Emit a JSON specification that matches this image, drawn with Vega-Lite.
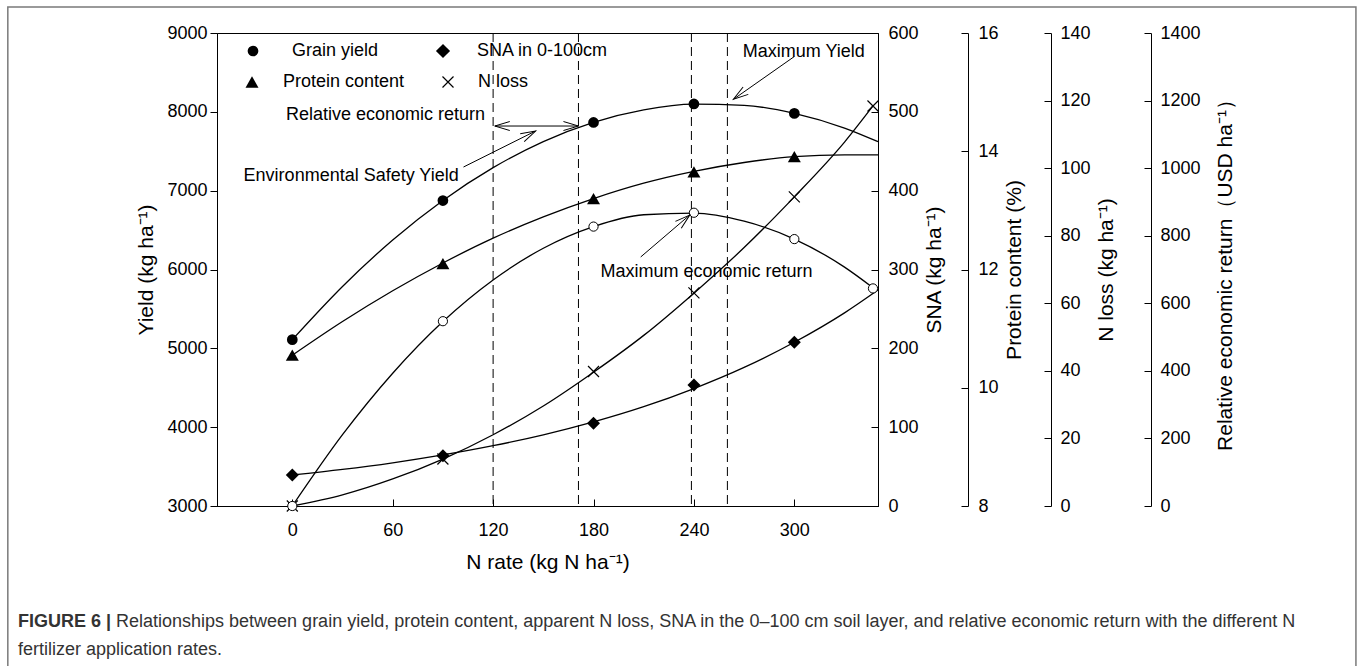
{
  "$schema": "https://vega.github.io/schema/vega-lite/v6.json",
  "autosize": {"type": "none"},
  "padding": {"left": 217, "top": 33, "right": 1141, "bottom": 633},
  "background": "white",
  "config": {
    "font": "Liberation Sans",
    "view": {"stroke": "black", "strokeWidth": 1},
    "axis": {"domainColor": "black", "tickColor": "black", "labelColor": "black", "titleColor": "black", "labelFont": "Liberation Sans", "titleFont": "Liberation Sans", "labelFontSize": 18, "titleFontSize": 21, "titleFontWeight": "normal", "grid": false, "domainWidth": 1, "tickWidth": 1, "labelFlush": false, "labelOverlap": false},
    "legend": {"labelFont": "Liberation Sans", "labelFontSize": 18, "labelColor": "black", "labelLimit": 400, "padding": 0, "titlePadding": 0}
  },
  "datasets": {
    "points": [
      {"series": "Grain yield", "N": 0, "value": 5110},
      {"series": "Grain yield", "N": 90, "value": 6875},
      {"series": "Grain yield", "N": 180, "value": 7865},
      {"series": "Grain yield", "N": 240, "value": 8100},
      {"series": "Grain yield", "N": 300, "value": 7980},
      {"series": "Protein content", "N": 0, "value": 10.55},
      {"series": "Protein content", "N": 90, "value": 12.1},
      {"series": "Protein content", "N": 180, "value": 13.2},
      {"series": "Protein content", "N": 240, "value": 13.65},
      {"series": "Protein content", "N": 300, "value": 13.91},
      {"series": "SNA in 0-100cm", "N": 0, "value": 39.3},
      {"series": "SNA in 0-100cm", "N": 90, "value": 63.8},
      {"series": "SNA in 0-100cm", "N": 180, "value": 104.9},
      {"series": "SNA in 0-100cm", "N": 240, "value": 153.5},
      {"series": "SNA in 0-100cm", "N": 300, "value": 207.7},
      {"series": "N loss", "N": 0, "value": 0},
      {"series": "N loss", "N": 90, "value": 13.9},
      {"series": "N loss", "N": 180, "value": 39.8},
      {"series": "N loss", "N": 240, "value": 63.1},
      {"series": "N loss", "N": 300, "value": 91.5},
      {"series": "N loss", "N": 347, "value": 118.4},
      {"series": "Relative economic return", "N": 0, "value": 0},
      {"series": "Relative economic return", "N": 90, "value": 547},
      {"series": "Relative economic return", "N": 180, "value": 827},
      {"series": "Relative economic return", "N": 240, "value": 868},
      {"series": "Relative economic return", "N": 300, "value": 790},
      {"series": "Relative economic return", "N": 347, "value": 644}
    ],
    "curves": [
      {"series": "Grain yield", "N": 0, "value": 5110},
      {"series": "Grain yield", "N": 30, "value": 5785},
      {"series": "Grain yield", "N": 60, "value": 6374},
      {"series": "Grain yield", "N": 90, "value": 6876},
      {"series": "Grain yield", "N": 120, "value": 7292},
      {"series": "Grain yield", "N": 150, "value": 7623},
      {"series": "Grain yield", "N": 180, "value": 7867},
      {"series": "Grain yield", "N": 210, "value": 8025},
      {"series": "Grain yield", "N": 240, "value": 8097},
      {"series": "Grain yield", "N": 270, "value": 8082},
      {"series": "Grain yield", "N": 300, "value": 7981},
      {"series": "Grain yield", "N": 330, "value": 7794},
      {"series": "Grain yield", "N": 350, "value": 7621},
      {"series": "Protein content", "N": 0, "value": 10.55},
      {"series": "Protein content", "N": 30, "value": 11.12},
      {"series": "Protein content", "N": 60, "value": 11.64},
      {"series": "Protein content", "N": 90, "value": 12.11},
      {"series": "Protein content", "N": 120, "value": 12.53},
      {"series": "Protein content", "N": 150, "value": 12.89},
      {"series": "Protein content", "N": 180, "value": 13.2},
      {"series": "Protein content", "N": 210, "value": 13.46},
      {"series": "Protein content", "N": 240, "value": 13.66},
      {"series": "Protein content", "N": 270, "value": 13.81},
      {"series": "Protein content", "N": 300, "value": 13.91},
      {"series": "Protein content", "N": 330, "value": 13.94},
      {"series": "Protein content", "N": 350, "value": 13.94},
      {"series": "SNA in 0-100cm", "N": 0, "value": 39.3},
      {"series": "SNA in 0-100cm", "N": 30, "value": 46.4},
      {"series": "SNA in 0-100cm", "N": 60, "value": 54.8},
      {"series": "SNA in 0-100cm", "N": 90, "value": 64.8},
      {"series": "SNA in 0-100cm", "N": 120, "value": 76.5},
      {"series": "SNA in 0-100cm", "N": 150, "value": 90.3},
      {"series": "SNA in 0-100cm", "N": 180, "value": 106.7},
      {"series": "SNA in 0-100cm", "N": 210, "value": 126},
      {"series": "SNA in 0-100cm", "N": 240, "value": 149},
      {"series": "SNA in 0-100cm", "N": 270, "value": 175.8},
      {"series": "SNA in 0-100cm", "N": 300, "value": 207.7},
      {"series": "SNA in 0-100cm", "N": 330, "value": 245},
      {"series": "SNA in 0-100cm", "N": 350, "value": 274},
      {"series": "N loss", "N": 0, "value": 0},
      {"series": "N loss", "N": 30, "value": 3.3},
      {"series": "N loss", "N": 60, "value": 8.0},
      {"series": "N loss", "N": 90, "value": 13.9},
      {"series": "N loss", "N": 120, "value": 21.1},
      {"series": "N loss", "N": 150, "value": 29.6},
      {"series": "N loss", "N": 180, "value": 39.6},
      {"series": "N loss", "N": 210, "value": 50.5},
      {"series": "N loss", "N": 240, "value": 63.0},
      {"series": "N loss", "N": 270, "value": 76.5},
      {"series": "N loss", "N": 300, "value": 91.5},
      {"series": "N loss", "N": 330, "value": 107.7},
      {"series": "N loss", "N": 347, "value": 118.4},
      {"series": "Relative economic return", "N": 0, "value": 0},
      {"series": "Relative economic return", "N": 30, "value": 211},
      {"series": "Relative economic return", "N": 60, "value": 393},
      {"series": "Relative economic return", "N": 90, "value": 546},
      {"series": "Relative economic return", "N": 120, "value": 669},
      {"series": "Relative economic return", "N": 150, "value": 763},
      {"series": "Relative economic return", "N": 180, "value": 827},
      {"series": "Relative economic return", "N": 210, "value": 862},
      {"series": "Relative economic return", "N": 240, "value": 867},
      {"series": "Relative economic return", "N": 270, "value": 843},
      {"series": "Relative economic return", "N": 300, "value": 790},
      {"series": "Relative economic return", "N": 330, "value": 707},
      {"series": "Relative economic return", "N": 347, "value": 646}
    ],
    "arrows": [
      {"id": "esy", "ord": 1, "N": 102.3, "Y": 7300},
      {"id": "esy", "ord": 2, "N": 145.4, "Y": 7757},
      {"id": "span", "ord": 1, "N": 121, "Y": 7820},
      {"id": "span", "ord": 2, "N": 171, "Y": 7820},
      {"id": "maxy", "ord": 1, "N": 299.9, "Y": 8700},
      {"id": "maxy", "ord": 2, "N": 263.6, "Y": 8159},
      {"id": "mer", "ord": 1, "N": 208.2, "Y": 6159},
      {"id": "mer", "ord": 2, "N": 237.5, "Y": 6691}
    ],
    "notes": [
      {"label": "Maximum Yield", "N": 269.2, "Y": 8696},
      {"label": "Environmental Safety Yield", "N": -29.1, "Y": 7127},
      {"label": "Maximum economic return", "N": 184.2, "Y": 5909}
    ]
  },
  "title": {
    "text": "Relationships between grain yield, protein content, apparent N loss, SNA in the 0–100 cm soil layer, and relative economic return with the different N",
    "orient": "bottom", "anchor": "start", "frame": "group", "dx": -101, "dy": 0, "offset": -68,
    "font": "Liberation Sans", "fontSize": 18, "fontWeight": "normal", "color": "#333"
  },
  "vconcat": [
    {
      "width": 661,
      "height": 473,
      "title": {
        "text": "FIGURE 6 |", "subtitle": "fertilizer application rates.",
        "orient": "bottom", "anchor": "start", "frame": "group", "dx": -199, "offset": -68,
        "font": "Liberation Sans", "fontSize": 18, "fontWeight": "bold", "color": "#333",
        "subtitleFont": "Liberation Sans", "subtitleFontSize": 18, "subtitleColor": "#333", "subtitlePadding": 10
      },
      "encoding": {
        "x": {"field": "N", "type": "quantitative",
          "scale": {"domain": [-45, 350], "nice": false, "zero": false},
          "axis": {"orient": "bottom", "values": [0, 60, 120, 180, 240, 300], "format": "d", "tickSize": -7, "labelPadding": 22, "title": "N rate (kg N ha⁻¹)", "titlePadding": 12}}
      },
      "layer": [
        {
          "data": {"values": [{"x1": -170, "x2": 635.6, "y1": 9330, "y2": 792}]},
          "mark": {"type": "rect", "fill": null, "fillOpacity": 0, "stroke": "#7a7a7a", "strokeWidth": 1.5, "clip": false},
          "encoding": {
            "x": {"field": "x1", "type": "quantitative"},
            "x2": {"field": "x2"},
            "y": {"field": "y1", "type": "quantitative", "scale": {"domain": [3000, 9000], "nice": false, "zero": false}, "axis": null},
            "y2": {"field": "y2"}
          }
        },
        {
          "data": {"values": [{"N": 120}, {"N": 171}, {"N": 238.5}, {"N": 260}]},
          "mark": {"type": "rule", "color": "black", "strokeWidth": 1, "strokeDash": [9, 5]},
          "encoding": {"x": {"field": "N", "type": "quantitative"}}
        },
        {
          "encoding": {"y": {"field": "value", "type": "quantitative", "scale": {"domain": [3000, 9000], "nice": false, "zero": false},
            "axis": {"orient": "left", "values": [3000, 4000, 5000, 6000, 7000, 8000, 9000], "format": "d", "tickSize": 7, "labelPadding": 3, "title": "Yield (kg ha⁻¹)", "titlePadding": 10}}},
          "layer": [
            {"data": {"name": "curves"}, "transform": [{"filter": "datum.series === 'Grain yield'"}],
             "mark": {"type": "line", "interpolate": "monotone", "color": "black", "strokeWidth": 1.3}},
            {"data": {"name": "points"}, "transform": [{"filter": "datum.series === 'Grain yield'"}],
             "mark": {"type": "point", "filled": true, "color": "black", "size": 115, "opacity": 1},
             "encoding": {"shape": {"field": "series", "type": "nominal", "scale": {"range": ["circle"]},
               "legend": {"orient": "none", "legendX": 27, "legendY": 9, "title": null, "labelOffset": 30, "symbolSize": 115, "symbolFillColor": "black", "symbolStrokeColor": "black"}}}}
          ]
        },
        {
          "encoding": {"y": {"field": "value", "type": "quantitative", "scale": {"domain": [0, 600], "nice": false, "zero": false},
            "axis": {"orient": "right", "offset": 0, "values": [0, 100, 200, 300, 400, 500, 600], "format": "d", "tickSize": -7, "labelPadding": 17, "title": "SNA (kg ha⁻¹)", "titleAngle": 270, "titleBaseline": "top", "titlePadding": 5}}},
          "layer": [
            {"data": {"name": "curves"}, "transform": [{"filter": "datum.series === 'SNA in 0-100cm'"}],
             "mark": {"type": "line", "interpolate": "monotone", "color": "black", "strokeWidth": 1.3}},
            {"data": {"name": "points"}, "transform": [{"filter": "datum.series === 'SNA in 0-100cm'"}],
             "mark": {"type": "point", "filled": true, "color": "black", "size": 169, "opacity": 1},
             "encoding": {"shape": {"field": "series", "type": "nominal", "scale": {"range": ["diamond"]},
               "legend": {"orient": "none", "legendX": 217, "legendY": 9, "title": null, "labelOffset": 25, "symbolSize": 200, "symbolFillColor": "black", "symbolStrokeColor": "black"}}}}
          ]
        },
        {
          "encoding": {"y": {"field": "value", "type": "quantitative", "scale": {"domain": [8, 16], "nice": false, "zero": false},
            "axis": {"orient": "right", "offset": 90, "values": [8, 10, 12, 14, 16], "format": "d", "tickSize": -7, "labelPadding": 17, "title": "Protein content (%)", "titleAngle": 270, "titleBaseline": "top", "titlePadding": 5}}},
          "layer": [
            {"data": {"name": "curves"}, "transform": [{"filter": "datum.series === 'Protein content'"}],
             "mark": {"type": "line", "interpolate": "monotone", "color": "black", "strokeWidth": 1.3}},
            {"data": {"name": "points"}, "transform": [{"filter": "datum.series === 'Protein content'"}],
             "mark": {"type": "point", "filled": true, "color": "black", "size": 169, "opacity": 1},
             "encoding": {"shape": {"field": "series", "type": "nominal", "scale": {"range": ["triangle-up"]},
               "legend": {"orient": "none", "legendX": 26, "legendY": 40, "title": null, "labelOffset": 22, "symbolSize": 169, "symbolFillColor": "black", "symbolStrokeColor": "black"}}}}
          ]
        },
        {
          "encoding": {"y": {"field": "value", "type": "quantitative", "scale": {"domain": [0, 140], "nice": false, "zero": false},
            "axis": {"orient": "right", "offset": 173, "values": [0, 20, 40, 60, 80, 100, 120, 140], "format": "d", "tickSize": -7, "labelPadding": 16, "title": "N loss (kg ha⁻¹)", "titleAngle": 270, "titleBaseline": "top", "titlePadding": 5}}},
          "layer": [
            {"data": {"name": "curves"}, "transform": [{"filter": "datum.series === 'N loss'"}],
             "mark": {"type": "line", "interpolate": "monotone", "color": "black", "strokeWidth": 1.3}},
            {"data": {"name": "points"}, "transform": [{"filter": "datum.series === 'N loss'"}],
             "mark": {"type": "point", "filled": false, "color": "black", "strokeWidth": 1.2, "size": 121, "opacity": 1},
             "encoding": {"shape": {"field": "series", "type": "nominal", "scale": {"range": ["M-1,-1L1,1M1,-1L-1,1"]},
               "legend": {"orient": "none", "legendX": 222, "legendY": 40, "title": null, "labelOffset": 21, "symbolSize": 121, "symbolFillColor": "transparent", "symbolStrokeColor": "black", "symbolStrokeWidth": 1.2}}}}
          ]
        },
        {
          "encoding": {"y": {"field": "value", "type": "quantitative", "scale": {"domain": [0, 1400], "nice": false, "zero": false},
            "axis": {"orient": "right", "offset": 273, "values": [0, 200, 400, 600, 800, 1000, 1200, 1400], "format": "d", "tickSize": -7, "labelPadding": 16, "title": "Relative economic return（USD ha⁻¹）", "titleAngle": 270, "titleBaseline": "top", "titlePadding": 14}}},
          "layer": [
            {"data": {"name": "curves"}, "transform": [{"filter": "datum.series === 'Relative economic return'"}],
             "mark": {"type": "line", "interpolate": "monotone", "color": "black", "strokeWidth": 1.3}},
            {"data": {"name": "points"}, "transform": [{"filter": "datum.series === 'Relative economic return'"}],
             "mark": {"type": "point", "filled": true, "fill": "white", "stroke": "black", "strokeWidth": 1, "size": 85, "opacity": 1},
             "encoding": {"shape": {"field": "series", "type": "nominal", "scale": {"range": ["circle"]},
               "legend": {"orient": "none", "legendX": 27, "legendY": 73, "title": null, "labelOffset": 24, "symbolSize": 85, "symbolFillColor": "white", "symbolStrokeColor": "black", "symbolStrokeWidth": 1}}}}
          ]
        },
        {
          "data": {"name": "notes"},
          "mark": {"type": "text", "align": "left", "baseline": "alphabetic", "font": "Liberation Sans", "fontSize": 18, "color": "black", "clip": false},
          "encoding": {
            "x": {"field": "N", "type": "quantitative"},
            "y": {"field": "Y", "type": "quantitative", "scale": {"domain": [3000, 9000], "nice": false, "zero": false}, "axis": null},
            "text": {"field": "label"}
          }
        },
        {
          "data": {"name": "arrows"},
          "mark": {"type": "line", "color": "black", "strokeWidth": 1, "clip": false},
          "encoding": {
            "x": {"field": "N", "type": "quantitative"},
            "y": {"field": "Y", "type": "quantitative", "scale": {"domain": [3000, 9000], "nice": false, "zero": false}, "axis": null},
            "detail": {"field": "id"},
            "order": {"field": "ord"}
          }
        },
        {
          "data": {"values": [{"N": 145.4, "Y": 7757}]},
          "mark": {"type": "point", "shape": "M-1,-0.3L0,0L-1,0.3", "angle": -26.6, "size": 900, "filled": false, "color": "black", "strokeWidth": 1, "opacity": 1},
          "encoding": {"x": {"field": "N", "type": "quantitative"}, "y": {"field": "Y", "type": "quantitative", "scale": {"domain": [3000, 9000], "nice": false, "zero": false}, "axis": null}}
        },
        {
          "data": {"values": [{"N": 121, "Y": 7820}]},
          "mark": {"type": "point", "shape": "M-1,-0.3L0,0L-1,0.3", "angle": 180, "size": 900, "filled": false, "color": "black", "strokeWidth": 1, "opacity": 1},
          "encoding": {"x": {"field": "N", "type": "quantitative"}, "y": {"field": "Y", "type": "quantitative", "scale": {"domain": [3000, 9000], "nice": false, "zero": false}, "axis": null}}
        },
        {
          "data": {"values": [{"N": 171, "Y": 7820}]},
          "mark": {"type": "point", "shape": "M-1,-0.3L0,0L-1,0.3", "angle": 0, "size": 900, "filled": false, "color": "black", "strokeWidth": 1, "opacity": 1},
          "encoding": {"x": {"field": "N", "type": "quantitative"}, "y": {"field": "Y", "type": "quantitative", "scale": {"domain": [3000, 9000], "nice": false, "zero": false}, "axis": null}}
        },
        {
          "data": {"values": [{"N": 263.6, "Y": 8159}]},
          "mark": {"type": "point", "shape": "M-1,-0.3L0,0L-1,0.3", "angle": 144.9, "size": 900, "filled": false, "color": "black", "strokeWidth": 1, "opacity": 1},
          "encoding": {"x": {"field": "N", "type": "quantitative"}, "y": {"field": "Y", "type": "quantitative", "scale": {"domain": [3000, 9000], "nice": false, "zero": false}, "axis": null}}
        },
        {
          "data": {"values": [{"N": 237.5, "Y": 6691}]},
          "mark": {"type": "point", "shape": "M-1,-0.3L0,0L-1,0.3", "angle": -40.6, "size": 900, "filled": false, "color": "black", "strokeWidth": 1, "opacity": 1},
          "encoding": {"x": {"field": "N", "type": "quantitative"}, "y": {"field": "Y", "type": "quantitative", "scale": {"domain": [3000, 9000], "nice": false, "zero": false}, "axis": null}}
        }
      ],
      "resolve": {"scale": {"y": "independent", "shape": "independent"}, "axis": {"y": "independent"}, "legend": {"shape": "independent"}}
    }
  ],
  "bounds": "flush"
}
